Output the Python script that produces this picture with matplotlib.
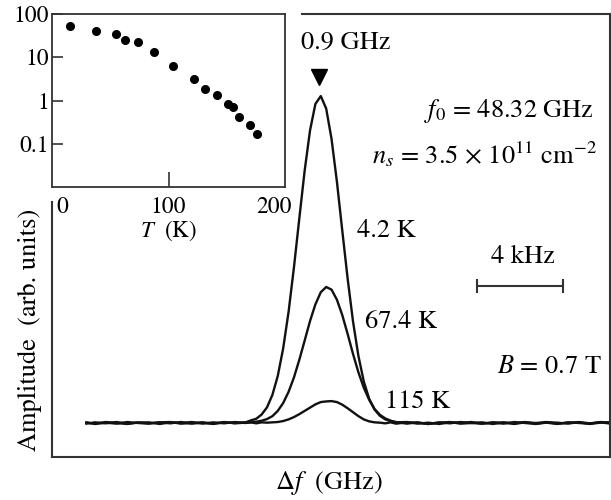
import matplotlib
matplotlib.use('Agg')
import matplotlib.pyplot as plt
from matplotlib.ticker import NullFormatter
import numpy as np

plt.rcParams['font.family'] = ['STIXGeneral', 'Liberation Serif', 'DejaVu Serif']
plt.rcParams['mathtext.fontset'] = 'stix'

# ---------------- data ----------------
# frequency offset (kHz, arbitrary origin)
X = np.array([1.6, 2.0, 2.5, 3.0, 3.5, 4.0, 4.5, 5.0, 5.5, 6.0, 6.5, 7.0, 7.5, 8.0, 8.5, 9.0,
              9.25, 9.5, 9.75, 10.0, 10.25, 10.5, 10.75, 11.0, 11.25, 11.5, 11.75, 12.0, 12.25,
              12.5, 12.75, 13.0, 13.25, 13.5, 13.75, 14.0, 14.25, 14.5, 14.75, 15.0, 15.25, 15.5, 15.75,
              16.0, 16.5, 17.0, 17.5, 18.0, 18.5, 19.0, 19.5, 20.0, 20.5, 21.0, 21.5, 22.0, 22.5,
              23.0, 23.5, 24.0, 24.5, 25.0, 25.5, 26.0])

amp_4K = np.array([0.002, -0.003, 0.001, -0.002, 0.003, 0.000, -0.002, 0.002, -0.001, 0.003, -0.002, 0.001, -0.003, 0.002, 0.000, 0.002,
                   0.008, 0.013, 0.026, 0.048, 0.086, 0.144, 0.228, 0.339, 0.475, 0.625, 0.772, 0.895, 0.976,
                   1.000, 0.962, 0.869, 0.738, 0.588, 0.441, 0.310, 0.205, 0.127, 0.074, 0.041, 0.022, 0.011, 0.006,
                   0.003, -0.002, 0.002, -0.003, 0.001, 0.003, -0.002, 0.000, 0.002, -0.003, 0.002, -0.001, 0.003, -0.002,
                   0.001, -0.003, 0.002, 0.000, -0.002, 0.003, 0.001])

amp_67K = np.array([-0.002, 0.002, -0.001, 0.003, -0.002, 0.001, 0.002, -0.003, 0.002, 0.000, 0.003, -0.002, 0.002, -0.001, 0.003, 0.000,
                    0.002, 0.004, 0.007, 0.012, 0.021, 0.037, 0.061, 0.095, 0.139, 0.193, 0.252, 0.312, 0.363,
                    0.400, 0.416, 0.408, 0.377, 0.330, 0.272, 0.211, 0.155, 0.108, 0.071, 0.043, 0.025, 0.014, 0.007,
                    0.002, 0.003, -0.002, 0.001, -0.003, 0.002, 0.000, 0.003, -0.002, 0.001, -0.002, 0.003, 0.000,
                    -0.003, 0.002, 0.001, -0.002, 0.003, -0.001, 0.002, -0.002])

amp_115K = np.array([0.001, -0.002, 0.003, 0.000, -0.003, 0.002, -0.001, 0.002, 0.003, -0.002, 0.000, 0.002, -0.002, 0.003, -0.001, 0.001,
                     0.002, -0.001, 0.002, 0.001, 0.002, 0.003, 0.006, 0.011, 0.018, 0.027, 0.037, 0.047, 0.057,
                     0.064, 0.066, 0.067, 0.064, 0.056, 0.045, 0.033, 0.021, 0.011, 0.005, 0.002, 0.001, -0.001, 0.002,
                     -0.002, 0.002, 0.001, -0.003, 0.002, -0.001, 0.003, 0.000, -0.002, 0.002, 0.001, -0.003, 0.002,
                     0.000, 0.003, -0.002, 0.001, 0.002, -0.003, 0.001, 0.002])

curve_labels = ['4.2 K', '67.4 K', '115 K']

# inset: peak amplitude vs temperature
T_K = np.array([6.6, 31.5, 50, 59.2, 71.1, 86.5, 104.1, 124.2, 134.6, 145.7, 156, 160.8, 167, 177, 183.4])
A_T = np.array([51.6, 41, 34.3, 25.5, 22.5, 13, 6.3, 3.1, 1.87, 1.34, 0.82, 0.71, 0.42, 0.27, 0.167])
inset_xticks = [0, 100, 200]
inset_yticks = [0.1, 1, 10, 100]
inset_yticklabels = ['0.1', '1', '10', '100']

SCALE_KHZ = 4.0

# ---------------- figure ----------------
W, H = 611, 500
fig = plt.figure(figsize=(W / 100, H / 100), dpi=100)
def fx(px): return px / W
def fy(py): return 1 - py / H

ax = fig.add_axes([fx(52), fy(457), fx(610) - fx(52), fy(14) - fy(457)])
for ys in (amp_4K, amp_67K, amp_115K):
    ax.plot(X, ys, color='#111111', lw=1.7, solid_joinstyle='round')
ax.set_xlim(0, 25.95)
ax.set_ylim(-0.104, 1.251)
ax.set_xticks([])
ax.set_yticks([])
for s in ax.spines.values():
    s.set_linewidth(1.5)
    s.set_color('#333333')
ax.spines['left'].set_bounds(-0.104, 0.676)
ax.spines['top'].set_bounds(11.63, 25.95)

# peak marker
ax.plot([12.42], [1.058], marker='v', color='black', ms=12, ls='none')

# scale bar
x0 = 19.77
ax.plot([x0, x0 + SCALE_KHZ], [0.419, 0.419], color='#333333', lw=1.5,
        marker='|', ms=10, mew=1.5)

fs = 19
fig.text(fx(346), fy(43), '0.9 GHz', ha='center', va='center', fontsize=fs)
fig.text(fx(594), fy(117), r'$f_0$ = 48.32 GHz', ha='right', va='baseline', fontsize=fs)
fig.text(fx(597), fy(163), r'$n_s$ = 3.5 × 10$^{11}$ cm$^{-2}$', ha='right', va='baseline', fontsize=fs)
fig.text(fx(357), fy(237), curve_labels[0], ha='left', va='baseline', fontsize=fs)
fig.text(fx(365), fy(328), curve_labels[1], ha='left', va='baseline', fontsize=fs)
fig.text(fx(385), fy(408), curve_labels[2], ha='left', va='baseline', fontsize=fs)
fig.text(fx(523), fy(263), '%d kHz' % SCALE_KHZ, ha='center', va='baseline', fontsize=fs)
fig.text(fx(602), fy(373), r'$B$ = 0.7 T', ha='right', va='baseline', fontsize=fs)
fig.text(fx(329), fy(483), r'Δ$f$  (GHz)', ha='center', va='center', fontsize=fs)
fig.text(fx(30), fy(330), 'Amplitude  (arb. units)', ha='center', va='center',
         rotation=90, fontsize=fs)

# ---------------- inset ----------------
axin = fig.add_axes([fx(52), fy(187), fx(285) - fx(52), fy(14) - fy(187)])
axin.set_yscale('log')
axin.plot(T_K, A_T, 'o', color='black', ms=5.5)
axin.set_xlim(-10, 210)
axin.set_ylim(0.01, 100)
axin.set_xticks(inset_xticks)
axin.set_xticklabels([str(t) for t in inset_xticks])
axin.set_yticks(inset_yticks)
axin.set_yticklabels(inset_yticklabels)
axin.yaxis.set_minor_formatter(NullFormatter())
axin.tick_params(which='both', direction='in', top=False, right=False, labelsize=17, color='#333333')
axin.tick_params(axis='y', which='major', length=8, width=1.2, pad=2)
axin.tick_params(axis='y', which='minor', length=4, width=1.0)
axin.tick_params(axis='x', which='major', length=11, width=1.2, pad=7)
axin.tick_params(axis='x', which='minor', bottom=False)
for i, t in enumerate(axin.xaxis.get_major_ticks()):
    if i != 1:
        t.tick1line.set_visible(False)
for s in axin.spines.values():
    s.set_linewidth(1.3)
    s.set_color('#333333')
fig.text(fx(168), fy(231), r'$T$  (K)', ha='center', va='center', fontsize=16.5)

fig.savefig('out.png', dpi=100)
